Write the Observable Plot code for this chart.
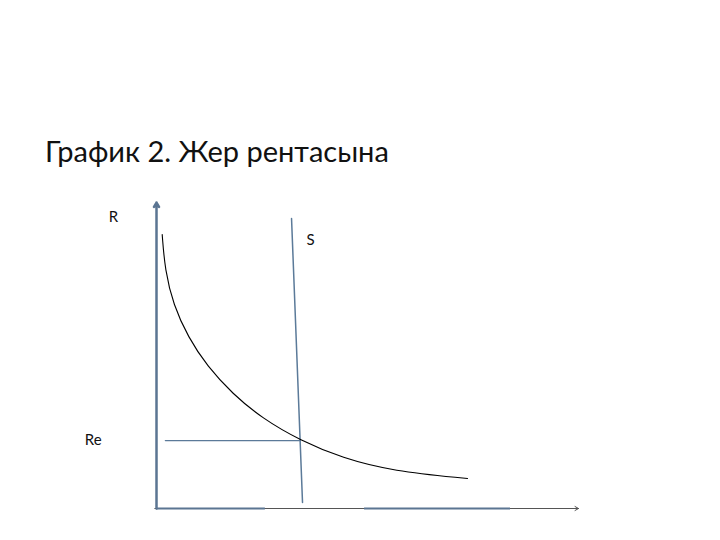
<!DOCTYPE html>
<html>
<head>
<meta charset="utf-8">
<script src="https://cdn.jsdelivr.net/npm/d3@7"></script>
<script src="https://cdn.jsdelivr.net/npm/@observablehq/plot@0.6"></script>
<style>
  body { margin: 0; background: #fff; }
  #wrap { width: 720px; height: 540px; position: relative; overflow: hidden; }
  #title { position: absolute; left: 45px; top: 133px; font-family: Lato, "Noto Sans", sans-serif; font-size: 29px; color: #111; white-space: nowrap; }
  #chart { position: absolute; left: 0; top: 190px; }
</style>
</head>
<body>
<div id="wrap">
  <div id="title">График 2. Жер рентасына</div>
  <div id="chart"></div>
</div>
<script>
// Demand-like rent curve (quantity of land, rent)
const curveQ = [1.35, 2.0, 4.0, 7.5, 12.0, 18.0, 25.0, 34.1, 44.0, 56.0, 73.7];
const curveR = [89.5, 78.0, 66.5, 56.0, 46.5, 37.5, 29.5, 22.2, 16.5, 12.2, 9.8];
// Fixed land supply S
const supplyQ = [32.0, 34.6];
const supplyR = [94.8, 2.0];
// Equilibrium rent Re guide
const reQ = [2.1, 34.1];
const reR = 22.2;
// Thick segments along the horizontal axis
const axisSegStart = [0, 49.3];
const axisSegEnd = [25.8, 83.9];
// Labels
const labelText = ["R", "S", "Re"];
const labelQ = [-10.2, 36.5, -15.0];
const labelR = [95.1, 87.6, 22.2];

const curve = curveQ.map((q, i) => ({q, r: curveR[i]}));
const supply = supplyQ.map((q, i) => ({q, r: supplyR[i]}));
const reLine = reQ.map(q => ({q, r: reR}));
const segs = axisSegStart.map((s, i) => ({x1: s, x2: axisSegEnd[i]}));
const labels = labelText.map((t, i) => ({t, q: labelQ[i], r: labelR[i]}));

const chart = Plot.plot({
  width: 720,
  height: 350,
  marginLeft: 156,
  marginRight: 142,
  marginTop: 12,
  marginBottom: 32,
  x: {domain: [0, 100], axis: null},
  y: {domain: [0, 100], axis: null},
  style: {background: "white", overflow: "visible"},
  marks: [
    Plot.arrow([{x1: -0.4, y1: 0, x2: 100, y2: 0}], {x1: "x1", y1: "y1", x2: "x2", y2: "y2", stroke: "#555", strokeWidth: 1, headLength: 6, bend: 0}),
    Plot.ruleY(segs, {x1: "x1", x2: "x2", y: () => 0, stroke: "#5b7592", strokeWidth: 2.2}),
    Plot.arrow([{x1: 0, y1: 0, x2: 0, y2: 100}], {x1: "x1", y1: "y1", x2: "x2", y2: "y2", stroke: "#5b7592", strokeWidth: 2.5, headLength: 3, bend: 0}),
    Plot.line(reLine, {x: "q", y: "r", stroke: "#5b7a99", strokeWidth: 1.3}),
    Plot.line(supply, {x: "q", y: "r", stroke: "#5b7a99", strokeWidth: 1.5}),
    Plot.line(curve, {x: "q", y: "r", stroke: "#000", strokeWidth: 1.1, curve: "basis"}),
    Plot.text(labels, {x: "q", y: "r", text: "t", fontSize: 15, fill: "#111", fontFamily: "Lato, 'Noto Sans', sans-serif", textAnchor: "middle"})
  ]
});
document.getElementById("chart").appendChild(chart);
</script>
</body>
</html>
